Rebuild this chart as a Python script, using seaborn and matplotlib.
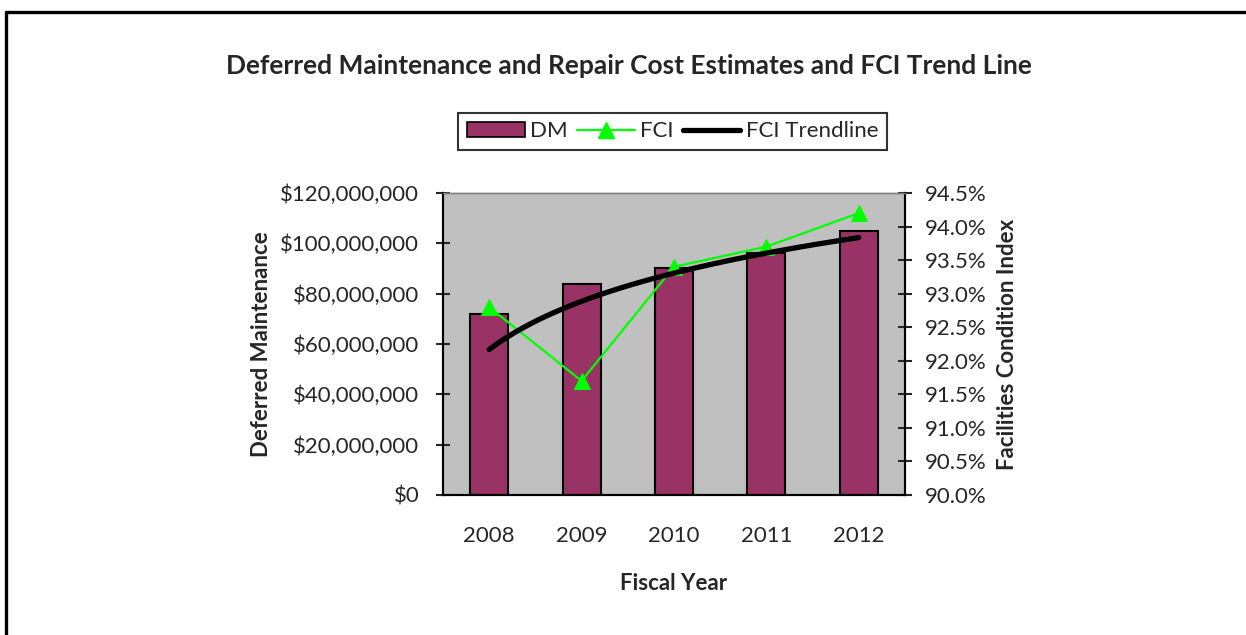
import numpy as np
import pandas as pd
import seaborn as sns
import matplotlib
matplotlib.use("Agg")
import matplotlib.pyplot as plt
from matplotlib.ticker import FuncFormatter, FixedLocator
from matplotlib.lines import Line2D
from matplotlib.patches import Patch

# data
years = ["2008", "2009", "2010", "2011", "2012"]
dm = [72_000_000, 84_000_000, 90_000_000, 96_000_000, 104_800_000]
fci = [92.8, 91.7, 93.4, 93.7, 94.2]

sns.set_style("white")
plt.rcParams["font.family"] = ["Lato", "DejaVu Sans"]

df = pd.DataFrame({"year": years, "dm": dm, "fci": fci})
df["pos"] = np.arange(len(df))

fig = plt.figure(figsize=(12.46, 6.35), dpi=100)
ax = fig.add_axes([0.3555, 0.2205, 0.3708, 0.4756])
ax.set_facecolor("#C0C0C0")

sns.barplot(data=df, x="pos", y="dm", ax=ax, color="#993366", width=0.41,
            edgecolor="black", linewidth=1.5, saturation=1, native_scale=True)
ax.set_xlim(-0.5, len(df) - 0.5)
ax.set_ylim(0, 120_000_000)
ax.yaxis.set_major_locator(FixedLocator(np.arange(0, 120_000_001, 20_000_000)))
ax.yaxis.set_major_formatter(FuncFormatter(lambda v, p: f"${v:,.0f}"))
ax.set_xticks(np.arange(-0.5, len(df), 1.0))
ax.set_xticklabels([])
ax.set_xticks(df["pos"], minor=True)
ax.set_xticklabels(years, minor=True)
ax.tick_params(axis="x", which="major", direction="inout", length=12, width=1.5)
ax.tick_params(axis="x", which="minor", length=0, pad=22, labelsize=16)
ax.tick_params(axis="y", direction="inout", length=10, width=1.5, labelsize=16, pad=12)
ax.set_xlabel("Fiscal Year", fontsize=16, fontweight="bold", labelpad=20)
ax.set_ylabel("Deferred Maintenance", fontsize=16, fontweight="bold", labelpad=6)

ax2 = ax.twinx()
sns.lineplot(data=df, x="pos", y="fci", ax=ax2, color="#00FF00", linewidth=1.6,
             marker="^", markersize=12, markeredgecolor="#00FF00")

# logarithmic trend line (like the spreadsheet trendline)
xn = df["pos"].values + 1
b, a = np.polyfit(np.log(xn), df["fci"].values, 1)
xs = np.linspace(1, len(df), 200)
ax2.plot(xs - 1, a + b * np.log(xs), color="black", linewidth=3.8,
         solid_capstyle="round")

ax2.set_ylim(90, 94.5)
ax2.yaxis.set_major_locator(FixedLocator(np.arange(90, 94.51, 0.5)))
ax2.yaxis.set_major_formatter(FuncFormatter(lambda v, p: f"{v:.1f}%"))
ax2.tick_params(axis="y", direction="inout", length=10, width=1.5, labelsize=16, pad=9)
ax2.set_ylabel("Facilities Condition Index", fontsize=16, fontweight="bold", labelpad=8)
ax2.set_xlim(-0.5, len(df) - 0.5)

for a_ in (ax, ax2):
    for side in ("left", "right", "bottom"):
        a_.spines[side].set_color("black")
        a_.spines[side].set_linewidth(1.5)
    a_.spines["top"].set_color("#808080")
    a_.spines["top"].set_linewidth(1.0)

fig.text(0.505, 0.896, "Deferred Maintenance and Repair Cost Estimates and FCI Trend Line",
         ha="center", va="center", fontsize=19, fontweight="bold")

handles = [
    Patch(facecolor="#993366", edgecolor="black", linewidth=1.2),
    Line2D([], [], color="#00FF00", linewidth=1.6, marker="^", markersize=12),
    Line2D([], [], color="black", linewidth=3.8),
]
leg = fig.legend(handles, ["DM", "FCI", "FCI Trendline"], loc="center",
                 bbox_to_anchor=(0.54, 0.793), ncol=3, fontsize=16,
                 frameon=True, fancybox=False, edgecolor="black",
                 handlelength=2.6, handletextpad=0.25, columnspacing=0.4,
                 borderpad=0.4)
leg.get_frame().set_linewidth(1.5)

# outer border of the chart object (cut off at right and bottom)
fig.add_artist(Line2D([0.0045, 0.0045], [-0.1, 0.981], color="black", linewidth=2.4,
                      transform=fig.transFigure))
fig.add_artist(Line2D([0.0045, 1.1], [0.981, 0.981], color="black", linewidth=2.4,
                      transform=fig.transFigure))

fig.savefig("out.png", dpi=100)
